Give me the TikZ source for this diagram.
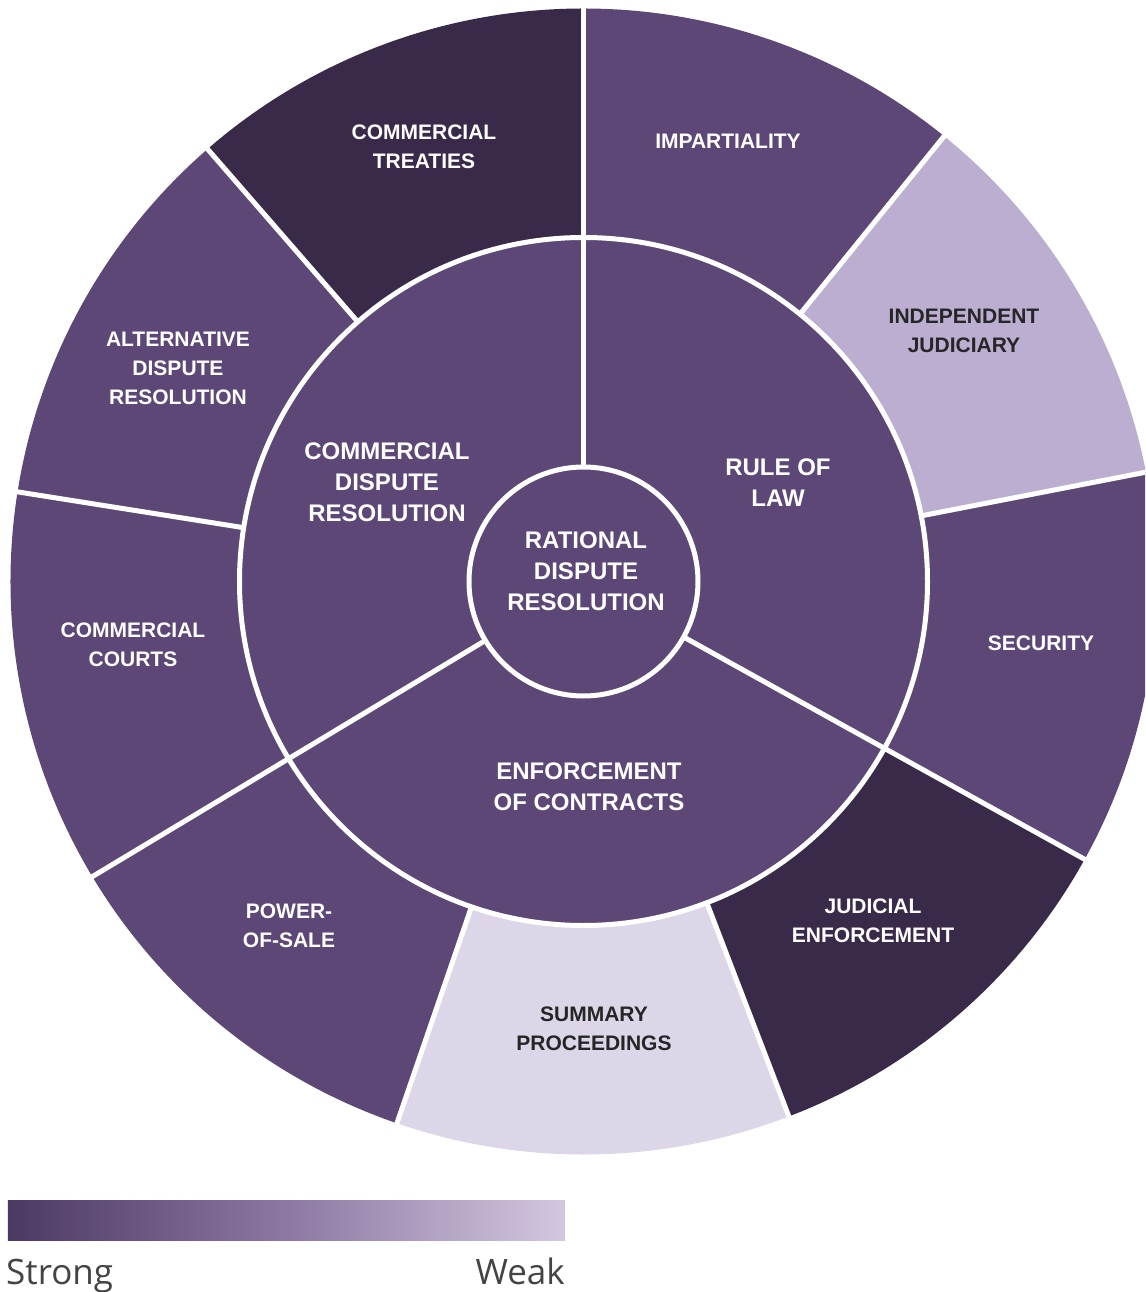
\documentclass[tikz,border=0pt]{standalone}
\usepackage{fontspec}
\setmainfont{Liberation Sans}
\newfontfamily\legendfont{Open Sans}
\definecolor{midP}{HTML}{5D4777}
\definecolor{darkP}{HTML}{3A2A4A}
\definecolor{lightP}{HTML}{BCAED0}
\definecolor{vlightP}{HTML}{DDD6E8}
\definecolor{txtdark}{HTML}{262626}
\definecolor{legtxt}{HTML}{444444}
\definecolor{gradL}{HTML}{4B3863}
\definecolor{gradM}{HTML}{8C78A3}
\definecolor{gradR}{HTML}{D4C7E0}
\begin{document}
\begin{tikzpicture}[x=1pt,y=1pt,
  lab/.style={align=center,font=\bfseries\fontsize{21}{29}\selectfont,text=white,inner sep=0pt},
  labdark/.style={lab,text=txtdark},
  midlab/.style={align=center,font=\bfseries\fontsize{24}{31}\selectfont,text=white,inner sep=0pt},
  sep/.style={white,line width=5pt},
  legend/.style={font=\legendfont\fontsize{35}{40}\selectfont,text=legtxt,inner sep=0pt}]
\useasboundingbox (-583.5,-710.5) rectangle (561.5,581.5);
\begin{scope}
\clip (-583.5,-710.5) rectangle (561.5,581.5);
% outer ring segments
\foreach \a/\b/\c in {51/90/midP, 11/51/lightP, -29/11/midP, -69/-29/darkP,
  -109/-69/vlightP, -149/-109/midP, 171/211/midP, 131/171/midP, 90/131/darkP}
  \fill[\c] (0,0) -- (\a:573pt) arc[start angle=\a,end angle=\b,radius=573pt] -- cycle;
% middle ring and centre
\fill[midP] (0,0) circle[radius=344pt];
% separators outer ring
\foreach \a in {51,11,-69,-109,171,131}
  \draw[sep] (\a:344pt) -- (\a:580pt);
% separators middle ring (continuing through outer ring)
\foreach \a in {90,-29,-149}
  \draw[sep] (\a:114pt) -- (\a:580pt);
\draw[sep] (0,0) circle[radius=344pt];
\draw[sep] (0,0) circle[radius=114.5pt];
\end{scope}
% outer labels
\node[lab] (ct) at (-159.5,434.5) {COMMERCIAL\\TREATIES};
\node[lab] (imp) at (144.5,440.5) {IMPARTIALITY};
\node[labdark] (ind) at (380.5,250.5) {INDEPENDENT\\JUDICIARY};
\node[lab] (sec) at (457.5,-61.5) {SECURITY};
\node[lab] (je) at (289.5,-339.5) {JUDICIAL\\ENFORCEMENT};
\node[labdark] (sp) at (10.5,-447.5) {SUMMARY\\PROCEEDINGS};
\node[lab] (pos) at (-294.5,-344.5) {POWER-\\OF-SALE};
\node[lab] (cc) at (-450.5,-63.5) {COMMERCIAL\\COURTS};
\node[lab] (adr) at (-405.5,213.5) {ALTERNATIVE\\DISPUTE\\RESOLUTION};
% middle labels
\node[midlab] (cdr) at (-196.5,99.5) {COMMERCIAL\\DISPUTE\\RESOLUTION};
\node[midlab] (rol) at (194.5,98.5) {RULE OF\\LAW};
\node[midlab] (eoc) at (5.5,-205.5) {ENFORCEMENT\\OF CONTRACTS};
% centre label
\node[midlab] (rdr) at (2.5,10.5) {RATIONAL\\DISPUTE\\RESOLUTION};
% legend
\shade[left color=gradL,right color=gradR,middle color=gradM] (-575.5,-618.5) rectangle (-18.5,-658.5);
\node[legend,anchor=base west] (strong) at (-577.5,-702.5) {Strong};
\node[legend,anchor=base east] (weak) at (-18.5,-702.5) {Weak};
\end{tikzpicture}
\end{document}
